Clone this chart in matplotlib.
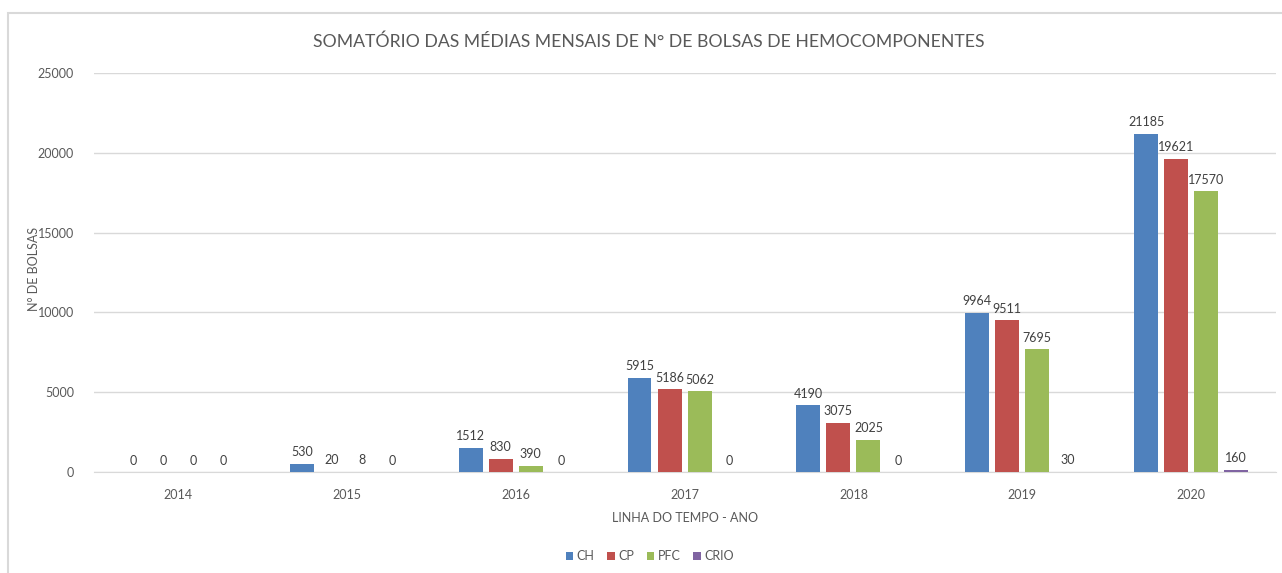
import matplotlib
matplotlib.use("Agg")
import matplotlib.pyplot as plt
from matplotlib.patches import Rectangle
import numpy as np

anos = ["2014", "2015", "2016", "2017", "2018", "2019", "2020"]
ch = [0, 530, 1512, 5915, 4190, 9964, 21185]
cp = [0, 20, 830, 5186, 3075, 9511, 19621]
pfc = [0, 8, 390, 5062, 2025, 7695, 17570]
crio = [0, 0, 0, 0, 0, 30, 160]

series = [("CH", ch, "#4F81BD"), ("CP", cp, "#C0504D"),
          ("PFC", pfc, "#9BBB59"), ("CRIO", crio, "#8064A2")]

plt.rcParams['font.family'] = ['Lato', 'DejaVu Sans']
texto = "#595959"

fig = plt.figure(figsize=(12.82, 5.73), dpi=100)
ax = fig.add_axes([0.073, 0.176, 0.922, 0.697])

x = np.arange(len(anos))
passo = 0.178
largura = 0.142
for i, (nome, vals, cor) in enumerate(series):
    pos = x + (i - 1.5) * passo
    barras = ax.bar(pos, vals, largura, color=cor, label=nome, zorder=3)
    for b, v in zip(barras, vals):
        ax.annotate(str(v), (b.get_x() + b.get_width() / 2, v),
                    xytext=(0, 4), textcoords="offset points",
                    ha="center", va="bottom", fontsize=9, color="#404040")

ax.set_xlim(-0.5, len(anos) - 0.5)
ax.set_ylim(0, 25000)
ax.set_yticks(range(0, 25001, 5000))
ax.set_xticks(x)
ax.set_xticklabels(anos)
ax.grid(axis="y", color="#d9d9d9", linewidth=1, zorder=0)
ax.tick_params(axis="both", length=0, labelsize=9, colors=texto)
ax.tick_params(axis="x", pad=12)
ax.tick_params(axis="y", pad=14)
for s in ["top", "right", "left"]:
    ax.spines[s].set_visible(False)
ax.spines["bottom"].set_color("#d9d9d9")

fig.text(649 / 1282, 1 - 42 / 573,
         "SOMATÓRIO DAS MÉDIAS MENSAIS DE N° DE BOLSAS DE HEMOCOMPONENTES",
         fontsize=12.7, color=texto, ha="center", va="center")
ax.set_xlabel("LINHA DO TEMPO - ANO", fontsize=9, color=texto, labelpad=8)
ax.set_ylabel("N° DE BOLSAS", fontsize=9, color=texto)
ax.yaxis.set_label_coords(-0.045, 0.51)

fig.legend(loc="center", bbox_to_anchor=(650 / 1282, 1 - 556 / 573), ncol=4,
           frameon=False, fontsize=9, handlelength=0.6, handleheight=0.6,
           handletextpad=0.3, columnspacing=1.0, labelcolor=texto)

fig.add_artist(Rectangle((8 / 1282, -0.01), 1.0, 1 - 13 / 573 + 0.01,
                         transform=fig.transFigure, fill=False,
                         edgecolor="#d9d9d9", linewidth=1.5))

fig.savefig("out.png", dpi=100)
